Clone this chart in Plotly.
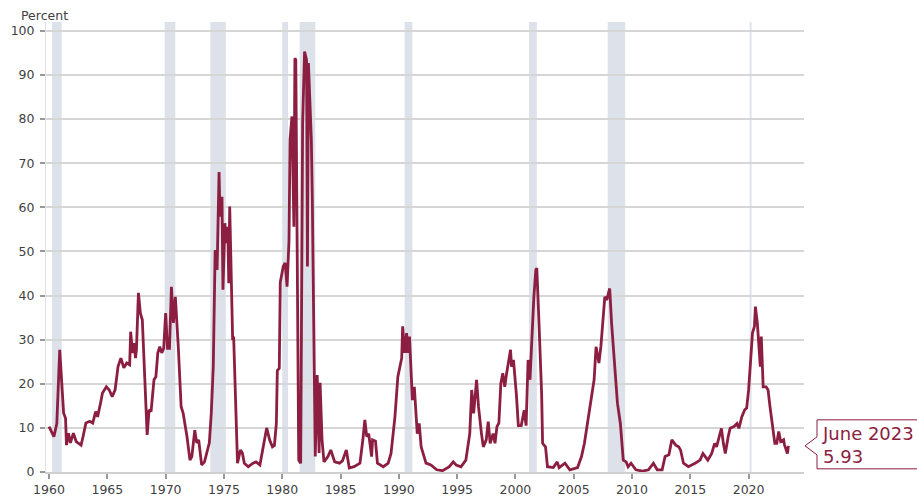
import plotly.graph_objects as go

# ---------------- data ----------------
dates = [
    "1960-01", "1960-06", "1960-09", "1960-12", "1961-04", "1961-06", "1961-07", "1961-09", "1961-11",
    "1962-02", "1962-05", "1962-10", "1962-12", "1963-03", "1963-07", "1963-10", "1964-01", "1964-03",
    "1964-06", "1964-08", "1964-12", "1965-03", "1965-06", "1965-09", "1965-12", "1966-03", "1966-06",
    "1966-09", "1966-12", "1967-01", "1967-03", "1967-05", "1967-06", "1967-07", "1967-09", "1967-11",
    "1968-01", "1968-03", "1968-06", "1968-08", "1968-10", "1969-01", "1969-03", "1969-05", "1969-07",
    "1969-09", "1969-11", "1970-01", "1970-03", "1970-05", "1970-07", "1970-09", "1970-11", "1971-02",
    "1971-05", "1971-07", "1971-11", "1972-02", "1972-04", "1972-07", "1972-09", "1972-11", "1973-02",
    "1973-05", "1973-10", "1973-12", "1974-02", "1974-04", "1974-06", "1974-08", "1974-09", "1974-11",
    "1974-12", "1975-02", "1975-03", "1975-05", "1975-06", "1975-07", "1975-10", "1975-11", "1976-01",
    "1976-03", "1976-06", "1976-08", "1976-10", "1977-02", "1977-07", "1977-10", "1978-02", "1978-05",
    "1978-09", "1978-12", "1979-03", "1979-05", "1979-07", "1979-08", "1979-10", "1979-11", "1980-02",
    "1980-04", "1980-06", "1980-08", "1980-09", "1980-11", "1981-01", "1981-02", "1981-03", "1981-06",
    "1981-08", "1981-10", "1981-12", "1982-02", "1982-03", "1982-04", "1982-07", "1982-08", "1982-10",
    "1982-11", "1983-01", "1983-03", "1983-04", "1983-06", "1983-08", "1983-12", "1984-03", "1984-07",
    "1984-12", "1985-03", "1985-07", "1985-10", "1986-03", "1986-09", "1986-12", "1987-02", "1987-04",
    "1987-06", "1987-09", "1987-10", "1988-01", "1988-03", "1988-09", "1989-02", "1989-05", "1989-09",
    "1989-12", "1990-04", "1990-05", "1990-07", "1990-09", "1990-10", "1990-12", "1991-02", "1991-03",
    "1991-05", "1991-08", "1991-10", "1991-12", "1992-05", "1992-10", "1993-04", "1993-10", "1994-05",
    "1994-09", "1994-12", "1995-05", "1995-10", "1996-02", "1996-04", "1996-06", "1996-09", "1996-11",
    "1997-02", "1997-04", "1997-07", "1997-09", "1997-11", "1998-02", "1998-04", "1998-06", "1998-08",
    "1998-10", "1998-12", "1999-02", "1999-04", "1999-05", "1999-08", "1999-09", "1999-11", "2000-02",
    "2000-04", "2000-07", "2000-09", "2000-10", "2000-12", "2001-02", "2001-04", "2001-06", "2001-08",
    "2001-10", "2001-11", "2002-01", "2002-04", "2002-05", "2002-08", "2002-10", "2003-04", "2003-08",
    "2003-10", "2004-04", "2004-09", "2005-05", "2005-09", "2005-12", "2006-04", "2006-07", "2006-10",
    "2006-12", "2007-03", "2007-05", "2007-07", "2007-09", "2007-11", "2008-02", "2008-04", "2008-06",
    "2008-08", "2008-10", "2009-01", "2009-04", "2009-07", "2009-09", "2009-12", "2010-05", "2010-12",
    "2011-06", "2011-11", "2012-03", "2012-08", "2012-11", "2013-03", "2013-06", "2013-10", "2014-01",
    "2014-03", "2014-06", "2014-11", "2015-06", "2015-11", "2016-02", "2016-04", "2016-07", "2016-11",
    "2017-02", "2017-04", "2017-07", "2017-09", "2017-11", "2018-01", "2018-04", "2018-06", "2018-10",
    "2019-01", "2019-03", "2019-06", "2019-09", "2019-11", "2020-01", "2020-03", "2020-05", "2020-07",
    "2020-08", "2020-10", "2020-11", "2021-01", "2021-02", "2021-04", "2021-07", "2021-09", "2021-11",
    "2022-01", "2022-04", "2022-06", "2022-08", "2022-10", "2023-01", "2023-02", "2023-05", "2023-06",
]
values = [
    10.3, 8.0, 11.0, 27.7, 13.4, 12.2, 6.1, 8.8, 6.6,
    8.8, 6.9, 6.1, 8.0, 11.1, 11.5, 11.1, 13.7, 12.5,
    15.6, 17.9, 19.3, 18.6, 17.1, 18.6, 23.9, 25.8, 23.6,
    24.7, 24.3, 31.8, 27.0, 29.2, 25.8, 27.7, 40.6, 36.0,
    34.5, 23.1, 8.4, 14.1, 13.7, 20.9, 21.6, 27.0, 28.4,
    27.0, 28.0, 36.0, 28.0, 28.0, 42.0, 33.8, 39.7, 28.4,
    14.8, 13.4, 8.0, 2.7, 3.5, 9.5, 6.6, 7.3, 1.6,
    2.3, 6.6, 13.4, 23.9, 50.3, 45.8, 68.0, 57.9, 62.4,
    41.3, 56.4, 51.9, 55.6, 42.8, 60.2, 29.9, 30.7, 16.3,
    2.0, 5.0, 4.3, 2.0, 1.2, 2.0, 2.3, 1.6, 5.0,
    10.0, 7.3, 5.7, 6.0, 11.0, 23.0, 23.5, 43.0, 46.6,
    47.4, 42.0, 52.6, 75.3, 80.6, 55.6, 93.8, 93.4, 2.7,
    2.0, 79.0, 95.3, 93.4, 46.6, 92.7, 75.3, 61.7, 22.4,
    3.5, 22.0, 4.3, 20.2, 7.3, 2.3, 3.5, 5.0, 2.3,
    2.0, 2.5, 5.0, 0.9, 1.2, 2.0, 7.3, 11.8, 8.0,
    8.7, 3.5, 7.3, 7.0, 2.0, 1.2, 2.0, 4.2, 12.5,
    21.6, 25.8, 33.0, 27.0, 31.5, 27.0, 30.7, 20.9, 16.3,
    19.3, 8.7, 11.0, 5.7, 2.0, 1.6, 0.5, 0.3, 1.2,
    2.3, 1.6, 1.2, 2.7, 8.7, 18.6, 13.3, 20.9, 14.8,
    8.7, 5.7, 7.3, 11.4, 6.5, 8.7, 6.5, 10.3, 11.1,
    20.1, 22.4, 19.3, 22.4, 23.9, 27.7, 23.9, 25.4, 17.5,
    10.5, 10.5, 12.5, 14.0, 10.5, 25.4, 20.9, 31.5, 39.7,
    45.8, 46.2, 35.2, 17.8, 6.5, 5.7, 1.2, 1.0, 2.3,
    1.0, 2.0, 0.5, 1.0, 3.5, 6.5, 12.5, 16.3, 20.9,
    28.4, 24.7, 28.4, 34.5, 39.7, 39.0, 41.6, 33.7, 28.4,
    21.6, 15.6, 11.0, 2.7, 2.3, 1.2, 2.0, 0.5, 0.2,
    0.5, 2.0, 0.5, 0.5, 3.5, 3.9, 7.3, 6.1, 5.7,
    5.0, 2.0, 1.2, 2.0, 2.7, 4.2, 3.5, 2.7, 4.2,
    6.5, 5.7, 8.0, 9.9, 6.5, 4.2, 8.0, 9.9, 10.3,
    11.0, 9.9, 12.5, 14.1, 14.5, 18.6, 26.1, 31.5, 33.0,
    37.5, 33.7, 29.9, 23.9, 30.7, 19.3, 19.3, 18.6, 14.8,
    11.0, 6.5, 6.5, 9.2, 6.9, 7.3, 6.1, 4.2, 5.93,
]
recession_start = ["1960-04", "1969-12", "1973-11", "1980-01", "1981-07", "1990-07", "2001-03", "2007-12", "2020-02"]
recession_end   = ["1961-02", "1970-11", "1975-03", "1980-07", "1982-11", "1991-03", "2001-11", "2009-06", "2020-04"]
x_tick_labels = ["1960", "1965", "1970", "1975", "1980", "1985", "1990", "1995", "2000", "2005", "2010", "2015", "2020"]
y_tick_values = [0, 10, 20, 30, 40, 50, 60, 70, 80, 90, 100]
callout_label = "June 2023"

# ---------------- styling / layout constants ----------------
W, H = 917, 497
L, R, T, B = 46, 113, 22, 25
PW, PH = W - L - R, H - T - B
Y_MAX = 102
LINE_COLOR = "#8b1e41"
SHADE = "#dde1e9"
FONT = "DejaVu Sans"
TXT = "#3f3f3f"

def px_x(px):
    return (px - L) / PW

def px_y(py):
    return (H - B - py) / PH

fig = go.Figure()
fig.add_trace(go.Scatter(
    x=dates, y=values, mode="lines",
    line=dict(color=LINE_COLOR, width=2.8),
    hoverinfo="x+y", showlegend=False,
))

shapes = []
for s, e in zip(recession_start, recession_end):
    shapes.append(dict(type="rect", xref="x", yref="paper", x0=s, x1=e, y0=0, y1=1,
                       fillcolor=SHADE, line=dict(width=0), layer="below"))

# callout box with pointer at the last value
tip_y_px = (H - B) - values[-1] / Y_MAX * PH
tip_x_px = L + PW + 1
bx0 = tip_x_px + 12
bx1 = W + 20
by0 = tip_y_px - 26
by1 = tip_y_px + 23
path = (f"M {px_x(bx0)},{px_y(by0)} L {px_x(bx1)},{px_y(by0)} L {px_x(bx1)},{px_y(by1)} "
        f"L {px_x(bx0)},{px_y(by1)} L {px_x(bx0)},{px_y(tip_y_px + 9)} "
        f"L {px_x(tip_x_px)},{px_y(tip_y_px)} L {px_x(bx0)},{px_y(tip_y_px - 9)} Z")
shapes.append(dict(type="path", xref="paper", yref="paper", path=path,
                   fillcolor="white", line=dict(color=LINE_COLOR, width=1), layer="above"))

annotations = [
    dict(xref="paper", yref="paper", x=px_x(bx0 + 3), y=px_y(tip_y_px - 1), xanchor="left", yanchor="middle",
         text=f"{callout_label}<br>{values[-1]:.2f}", align="left", showarrow=False,
         font=dict(family=FONT, size=18, color=LINE_COLOR)),
    dict(xref="paper", yref="paper", x=px_x(19), y=px_y(16), xanchor="left", yanchor="middle",
         text="Percent", showarrow=False, font=dict(family=FONT, size=12.5, color=TXT)),
]

fig.update_layout(
    template="none",
    width=W, height=H,
    margin=dict(l=L, r=R, t=T, b=B, pad=0),
    paper_bgcolor="white", plot_bgcolor="white",
    shapes=shapes, annotations=annotations,
    font=dict(family=FONT, size=12.5, color=TXT),
    xaxis=dict(
        type="date",
        range=["1959-09-28", "2024-10-01"],
        tickvals=[f"{y}-01-01" for y in x_tick_labels],
        ticktext=x_tick_labels,
        showgrid=False, zeroline=False, automargin=False,
        showline=True, linecolor="#cfcfcf", linewidth=1.5,
        ticks="outside", ticklen=5, tickcolor="#999", tickwidth=1.5,
        tickfont=dict(family=FONT, size=12.5, color=TXT),
        fixedrange=True,
    ),
    yaxis=dict(
        range=[0, Y_MAX],
        tickvals=y_tick_values,
        showgrid=True, gridcolor="#d6d6d6", gridwidth=1.5,
        zeroline=False, automargin=False,
        showline=True, linecolor="#e2e2e2", linewidth=1,
        ticks="outside", ticklen=5, tickcolor="#999", tickwidth=1.5,
        ticklabelstandoff=3,
        tickfont=dict(family=FONT, size=12.5, color=TXT),
        fixedrange=True,
    ),
)

fig.write_html(
    "out.html",
    config={"displayModeBar": False},
    post_script="document.body.style.margin='0';document.body.style.overflow='hidden';",
)
